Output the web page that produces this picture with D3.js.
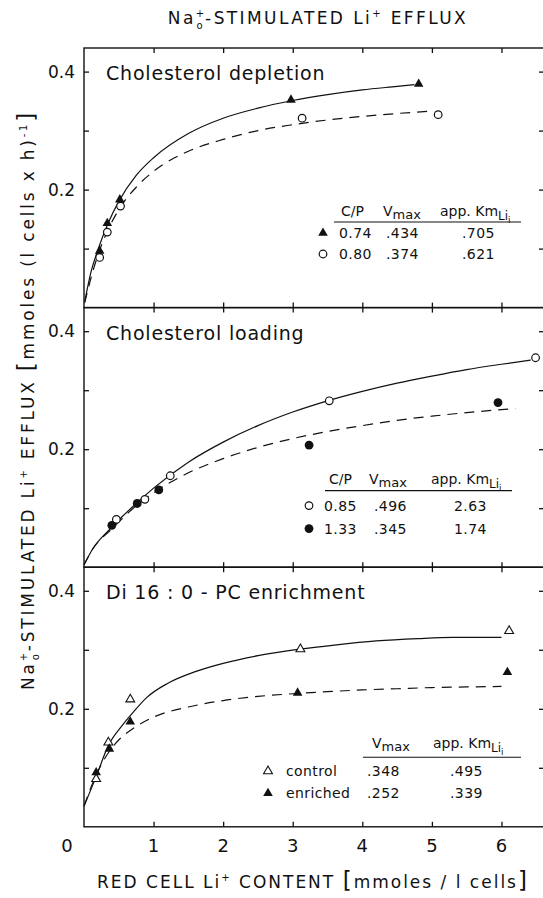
<!DOCTYPE html>
<html>
<head>
<meta charset="utf-8">
<script src="https://cdn.jsdelivr.net/npm/d3@7"></script>
<style>
  body { margin: 0; background: #fff; }
  svg { display: block; }
  text { font-family: "DejaVu Sans", sans-serif; fill: #111; }
</style>
</head>
<body>
<div id="chart"></div>
<script>
// ---- data ----
const xTicks = [0, 1, 2, 3, 4, 5, 6];
const yTicks = [0.1, 0.2, 0.3, 0.4];
const yTickLabels = [0.2, 0.4];

// panel 1 : cholesterol depletion
const depl074 = [[0.225, 0.096], [0.335, 0.143], [0.515, 0.183], [2.975, 0.352], [4.81, 0.379]];
const depl080 = [[0.225, 0.085], [0.335, 0.128], [0.525, 0.172], [3.135, 0.321], [5.09, 0.327]];
const depl074Fit = [[0.01, 0.01], [0.1, 0.06], [0.2, 0.098], [0.35, 0.144], [0.5, 0.18], [0.75, 0.224], [1.0, 0.254],
  [1.5, 0.295], [2.0, 0.321], [2.5, 0.338], [3.0, 0.351], [3.5, 0.361], [4.0, 0.369], [4.5, 0.375], [4.75, 0.378]];
const depl080Fit = [[0.01, 0.008], [0.1, 0.05], [0.2, 0.089], [0.35, 0.133], [0.5, 0.166], [0.75, 0.204], [1.0, 0.231],
  [1.5, 0.265], [2.0, 0.285], [2.5, 0.3], [3.0, 0.31], [3.5, 0.318], [4.0, 0.324], [4.5, 0.329], [5.0, 0.333]];

// panel 2 : cholesterol loading
const load085 = [[0.465, 0.081], [0.875, 0.115], [1.24, 0.155], [3.525, 0.282], [6.49, 0.355]];
const load133 = [[0.40, 0.071], [0.765, 0.108], [1.075, 0.131], [3.235, 0.207], [5.95, 0.279]];
const load085Fit = [[0, 0.004], [0.12, 0.03], [0.4, 0.068], [0.75, 0.108], [1.0, 0.134], [1.5, 0.178], [2.0, 0.212],
  [2.5, 0.24], [3.0, 0.263], [3.5, 0.282], [4.0, 0.298], [4.5, 0.312], [5.0, 0.324], [5.5, 0.335], [6.0, 0.344], [6.42, 0.351]];
const load133Fit = [[0, 0.004], [0.12, 0.03], [0.4, 0.065], [0.75, 0.104], [1.0, 0.126], [1.5, 0.16], [2.0, 0.184],
  [2.5, 0.203], [3.0, 0.218], [3.5, 0.23], [4.0, 0.24], [4.5, 0.249], [5.0, 0.256], [5.5, 0.262], [6.2, 0.269]];

// panel 3 : di 16:0-PC enrichment
const pcControl = [[0.175, 0.081], [0.35, 0.143], [0.665, 0.216], [3.11, 0.301], [6.11, 0.332]];
const pcEnriched = [[0.175, 0.092], [0.365, 0.132], [0.665, 0.178], [3.07, 0.227], [6.085, 0.262]];
const pcControlFit = [[0, 0.035], [0.175, 0.085], [0.35, 0.138], [0.55, 0.172], [0.72, 0.196], [0.9, 0.219], [1.2, 0.243],
  [1.6, 0.263], [2.0, 0.277], [2.5, 0.29], [3.1, 0.301], [3.6, 0.308], [4.2, 0.315], [4.8, 0.319], [5.3, 0.321], [6.0, 0.321]];
const pcEnrichedFit = [[0, 0.035], [0.175, 0.088], [0.365, 0.128], [0.55, 0.153], [0.71, 0.167], [1.0, 0.186], [1.5, 0.203],
  [2.0, 0.214], [2.5, 0.221], [3.07, 0.226], [3.5, 0.229], [4.0, 0.232], [4.5, 0.234], [5.0, 0.236], [5.5, 0.237], [6.0, 0.238]];

// legend tables
const panelTitles = ["Cholesterol depletion", "Cholesterol loading", "Di 16 : 0 - PC enrichment"];
const deplRows = [["0.74", ".434", ".705"], ["0.80", ".374", ".621"]];
const loadRows = [["0.85", ".496", "2.63"], ["1.33", ".345", "1.74"]];
const pcRows = [["control", ".348", ".495"], ["enriched", ".252", ".339"]];

// ---- layout ----
const W = 543, H = 898;
const left = 84, right = 546;
const panelH = 259.6;
const firstTop = 48;

const svg = d3.select("#chart").append("svg")
    .attr("width", W)
    .attr("height", H);

const x = d3.scaleLinear().domain([0, 6.64]).range([left, right]);

const line = d3.line()
    .x(d => x(d[0]))
    .curve(d3.curveMonotoneX);

const triFill = d3.symbol().type(d3.symbolTriangle).size(40)();
const triOpen = d3.symbol().type(d3.symbolTriangle).size(34)();

const panels = [
  { title: panelTitles[0], series: [
      { pts: depl074, fit: depl074Fit, dash: null, mark: "triFill" },
      { pts: depl080, fit: depl080Fit, dash: "10,7", mark: "circOpen" }],
    legend: { rows: deplRows, marks: ["triFill", "circOpen"], cp: true,
      hx: [341, 383, 440], ux: [334, 521], mx: 323, cx: [339, 386, 462], dy: [168, 174, 190, 211] } },
  { title: panelTitles[1], series: [
      { pts: load085, fit: load085Fit, dash: null, mark: "circOpen" },
      { pts: load133, fit: load133Fit, dash: "10,7", mark: "circFill" }],
    legend: { rows: loadRows, marks: ["circOpen", "circFill"], cp: true,
      hx: [329, 369, 431], ux: [325, 512], mx: 309, cx: [324, 374, 454], dy: [176, 183, 203, 226] } },
  { title: panelTitles[2], series: [
      { pts: pcControl, fit: pcControlFit, dash: null, mark: "triOpen" },
      { pts: pcEnriched, fit: pcEnrichedFit, dash: "10,7", mark: "triFill" }],
    legend: { rows: pcRows, marks: ["triOpen", "triFill"], cp: false,
      hx: [0, 372, 433], ux: [363, 521], mx: 268, cx: [286, 367, 450], dy: [181, 190, 209, 231] } }
];

function drawMark(g, kind, px, py) {
  if (kind === "triFill") {
    g.append("path").attr("d", triFill).attr("transform", `translate(${px},${py})`)
      .attr("fill", "#111");
  } else if (kind === "triOpen") {
    g.append("path").attr("d", triOpen).attr("transform", `translate(${px},${py})`)
      .attr("fill", "#fff").attr("stroke", "#111").attr("stroke-width", 1.1);
  } else if (kind === "circOpen") {
    g.append("circle").attr("cx", px).attr("cy", py).attr("r", 3.8)
      .attr("fill", "#fff").attr("stroke", "#111").attr("stroke-width", 1.2);
  } else {
    g.append("circle").attr("cx", px).attr("cy", py).attr("r", 4.4).attr("fill", "#111");
  }
}

panels.forEach((p, i) => {
  const top = firstTop + i * panelH;
  const bottom = top + panelH;
  const y = d3.scaleLinear().domain([0, 0.44]).range([bottom, top]);
  const g = svg.append("g");

  // frame
  g.append("rect")
    .attr("x", left).attr("y", top)
    .attr("width", right - left).attr("height", panelH)
    .attr("fill", "none").attr("stroke", "#111").attr("stroke-width", 1.4);

  // inward ticks
  g.append("g").attr("transform", `translate(${left},0)`)
    .call(d3.axisRight(y).tickValues(yTicks).tickSize(5).tickFormat(""))
    .call(a => a.select(".domain").remove());
  g.append("g").attr("transform", `translate(${right},0)`)
    .call(d3.axisLeft(y).tickValues(yTicks).tickSize(7).tickFormat(""))
    .call(a => a.select(".domain").remove());
  g.append("g").attr("transform", `translate(0,${top})`)
    .call(d3.axisBottom(x).tickValues(xTicks.slice(1)).tickSize(5).tickFormat(""))
    .call(a => a.select(".domain").remove());
  g.append("g").attr("transform", `translate(0,${bottom})`)
    .call(d3.axisTop(x).tickValues(xTicks.slice(1)).tickSize(5).tickFormat(""))
    .call(a => a.select(".domain").remove());
  g.selectAll(".tick line").attr("stroke", "#111").attr("stroke-width", 1.3);

  // y tick labels
  g.selectAll("text.ylab").data(yTickLabels).enter().append("text")
    .attr("class", "ylab")
    .attr("x", left - 9).attr("y", d => y(d) + 6)
    .attr("text-anchor", "end")
    .style("font-size", "17px")
    .text(d => d3.format(".1f")(d));

  // panel title
  g.append("text")
    .attr("x", 106).attr("y", top + 32)
    .style("font-size", "19px")
    .style("letter-spacing", "0.8px")
    .text(p.title);

  // fitted curves
  p.series.forEach(s => {
    line.y(d => y(d[1]));
    g.append("path")
      .attr("d", line(s.fit))
      .attr("fill", "none")
      .attr("stroke", "#111")
      .attr("stroke-width", 1.2)
      .attr("stroke-dasharray", s.dash);
  });
  p.series.forEach(s => {
    s.pts.forEach(d => drawMark(g, s.mark, x(d[0]), y(d[1])));
  });

  // legend table
  const L = p.legend;
  const hy = top + L.dy[0];
  if (L.cp) {
    g.append("text").attr("x", L.hx[0]).attr("y", hy).style("font-size", "14px").text("C/P");
  }
  const vm = g.append("text").attr("x", L.hx[1]).attr("y", hy).style("font-size", "14px");
  vm.append("tspan").text("V");
  vm.append("tspan").attr("dy", 3).style("font-size", "13px").text("max");
  const km = g.append("text").attr("x", L.hx[2]).attr("y", hy).style("font-size", "14px");
  km.append("tspan").text("app. Km");
  km.append("tspan").attr("dy", 4).style("font-size", "12px").text("Li");
  km.append("tspan").attr("dy", 3).style("font-size", "9px").text("i");

  g.append("line")
    .attr("x1", L.ux[0]).attr("x2", L.ux[1])
    .attr("y1", top + L.dy[1]).attr("y2", top + L.dy[1])
    .attr("stroke", "#111").attr("stroke-width", 1.1);

  L.rows.forEach((r, j) => {
    const ry = top + L.dy[2 + j];
    drawMark(g, L.marks[j], L.mx, ry - 5);
    r.forEach((t, k) => {
      g.append("text").attr("x", L.cx[k]).attr("y", ry)
        .style("font-size", "14px").style("letter-spacing", "0.4px").text(t);
    });
  });
});

// x tick labels
const axisBottom = firstTop + 3 * panelH;
svg.selectAll("text.xlab").data(xTicks).enter().append("text")
  .attr("class", "xlab")
  .attr("x", d => d === 0 ? x(d) - 17 : x(d))
  .attr("y", axisBottom + 25)
  .attr("text-anchor", "middle")
  .style("font-size", "18px")
  .text(d => d);

// chart title (Na+ with stacked subscript o)
const title = svg.append("text")
  .attr("x", 318).attr("y", 24)
  .attr("text-anchor", "middle")
  .style("font-size", "17px")
  .style("letter-spacing", "2.4px");
title.append("tspan").text("Na");
title.append("tspan").attr("dy", -7).style("font-size", "10px").text("+");
title.append("tspan").attr("dx", -10).attr("dy", 12).style("font-size", "10px").text("o");
title.append("tspan").attr("dy", -5).text("-STIMULATED Li");
title.append("tspan").attr("dy", -7).style("font-size", "10px").text("+");
title.append("tspan").attr("dy", 7).text(" EFFLUX");

// x axis title
const xt = svg.append("text")
  .attr("x", 313).attr("y", 888)
  .attr("text-anchor", "middle")
  .style("font-size", "17px")
  .style("letter-spacing", "2px");
xt.append("tspan").text("RED CELL Li");
xt.append("tspan").attr("dy", -7).style("font-size", "10px").text("+");
xt.append("tspan").attr("dy", 7).text(" CONTENT ");
xt.append("tspan").style("font-size", "23px").text("[");
xt.append("tspan").text("mmoles / l cells");
xt.append("tspan").style("font-size", "23px").text("]");

// y axis title
const yt = svg.append("text")
  .attr("transform", "translate(34,400) rotate(-90)")
  .attr("text-anchor", "middle")
  .style("font-size", "17px")
  .style("letter-spacing", "2.8px");
yt.append("tspan").text("Na");
yt.append("tspan").attr("dy", -7).style("font-size", "10px").text("+");
yt.append("tspan").attr("dx", -10).attr("dy", 12).style("font-size", "10px").text("o");
yt.append("tspan").attr("dy", -5).text("-STIMULATED Li");
yt.append("tspan").attr("dy", -7).style("font-size", "10px").text("+");
yt.append("tspan").attr("dy", 7).text(" EFFLUX ");
yt.append("tspan").style("font-size", "23px").text("[");
yt.append("tspan").text("mmoles (l cells x h)");
yt.append("tspan").attr("dy", -7).style("font-size", "10px").text("-1");
yt.append("tspan").attr("dy", 7).style("font-size", "23px").text("]");
</script>
</body>
</html>
